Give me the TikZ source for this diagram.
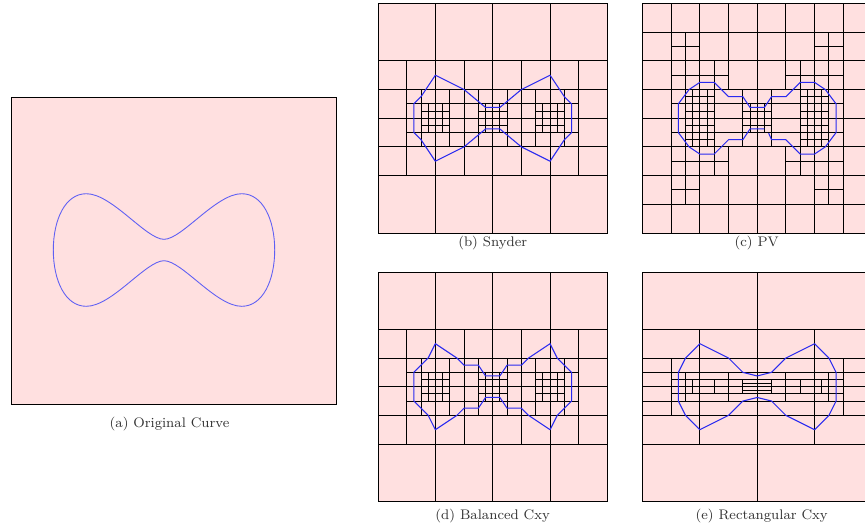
\documentclass[tikz,border=0pt]{standalone}
\usetikzlibrary{calc}
\definecolor{CellPink}{HTML}{FFE0E0}
\definecolor{CurveBlue}{HTML}{2A2AF0}
\definecolor{CaptionGray}{HTML}{333333}
\newcommand{\CellLines}[2]{%
  \foreach \yy/\aa/\bb in {#1} \draw[gridline] (\aa,\yy) -- (\bb,\yy);
  \foreach \xx/\aa/\bb in {#2} \draw[gridline] (\xx,\aa) -- (\xx,\bb);
}
\newcommand{\SnyderCells}{%
  \CellLines{8/0/32,12/0/32,16/0/32,20/0/32,24/0/32,14/4/28,18/4/28,
    15/6/10,17/6/10,15/14/18,17/14/18,15/22/26,17/22/26}
  {4/8/24,28/8/24,8/0/32,16/0/32,24/0/32,12/8/24,20/8/24,
    6/12/20,10/12/20,14/12/20,18/12/20,22/12/20,26/12/20,
    7/14/18,9/14/18,15/14/18,17/14/18,23/14/18,25/14/18}
}
\begin{document}
\begin{tikzpicture}[
    x=0.02cm,y=-0.02cm,
    panelsheet/.style={fill=CellPink,draw=black,line width=0.45pt},
    gridline/.style={draw=black,line width=0.5pt},
    polycurve/.style={draw=CurveBlue,line width=0.6pt,line join=round},
    smoothcurve/.style={draw=CurveBlue!75,line width=0.5pt},
    subpanel/.style={x=0.1434cm,y=-0.1434cm},
    caption/.style={text=CaptionGray,font=\fontsize{7.9}{10}\selectfont,inner sep=0pt}]

    \useasboundingbox (0,0) rectangle (865,529);
    \clip (0,0) rectangle (865,529);

    % Original curve
    \draw[panelsheet] (11,97) rectangle (336,404);
    \draw[smoothcurve] (164,239.3)
      .. controls (182,239.3) and (216,193.7) .. (241.7,193.7)
      .. controls (263,193.7) and (274.7,220) .. (274.7,250)
      .. controls (274.7,280) and (263,306.3) .. (241.7,306.3)
      .. controls (216,306.3) and (182,260.7) .. (164,260.7)
      .. controls (146,260.7) and (112,306.3) .. (86.3,306.3)
      .. controls (65,306.3) and (53.3,280) .. (53.3,250)
      .. controls (53.3,220) and (65,193.7) .. (86.3,193.7)
      .. controls (112,193.7) and (146,239.3) .. cycle;
    \node[caption] (capa) at (169.5,424.5) {(a) Original Curve};

    % Snyder
    \begin{scope}[shift={(378,3.5)},subpanel]
      \draw[panelsheet] (0,0) rectangle (32,32);
      \SnyderCells
      \draw[polycurve] (8,10) -- (12,12) -- (15,14.5) -- (17,14.5) -- (20,12) -- (24,10)
        -- (26,13) -- (27,14) -- (27,18) -- (26,19) -- (24,22) -- (20,20) -- (17,17.5)
        -- (15,17.5) -- (12,20) -- (8,22) -- (6,19) -- (5,18) -- (5,14) -- (6,13) -- cycle;
    \end{scope}
    \node[caption] (capb) at (492.7,243.5) {(b) Snyder};

    % PV
    \begin{scope}[shift={(642.5,3.5)},subpanel]
      \draw[panelsheet] (0,0) rectangle (32,32);
      \CellLines{4/0/32,8/0/32,12/0/32,16/0/32,20/0/32,24/0/32,28/0/32,
        6/4/8,6/24/28,26/4/8,26/24/28,10/4/12,10/20/28,22/4/12,22/20/28,14/4/28,18/4/28,
        13/6/10,13/22/26,19/6/10,19/22/26,15/6/10,15/14/18,15/22/26,17/6/10,17/14/18,17/22/26}
      {4/0/32,8/0/32,12/0/12,12/20/32,16/0/32,20/0/12,20/20/32,24/0/32,28/0/32,
        6/4/28,26/4/28,10/8/24,22/8/24,14/12/20,18/12/20,
        7/12/20,9/12/20,23/12/20,25/12/20,15/14/18,17/14/18}
      \draw[polycurve] (17.6,18.1) -- (18,19) -- (20,19) -- (22,21) -- (24,21) -- (25.5,20)
        -- (27,18) -- (27,14) -- (25.5,12) -- (24,11) -- (22,11) -- (20,13) -- (18,13)
        -- (17,14.5) -- (15,14.5) -- (14,13) -- (12,13) -- (10,11) -- (8,11) -- (6.5,12)
        -- (5,14) -- (5,18) -- (6.5,20) -- (8,21) -- (10,21) -- (12,19) -- (14,19)
        -- (15,17.5) -- (17,17.5);
    \end{scope}
    \node[caption] (capc) at (756.7,243.5) {(c) PV};

    % Balanced Cxy
    \begin{scope}[shift={(378,272)},subpanel]
      \draw[panelsheet] (0,0) rectangle (32,32);
      \SnyderCells
      \draw[polycurve] (8,10) -- (11,12) -- (12,13) -- (14,13) -- (15,14.5) -- (17,14.5)
        -- (18,13) -- (20,13) -- (21,12) -- (24,10) -- (25,12) -- (27,14) -- (27,18)
        -- (25,20) -- (24,22) -- (21,20) -- (20,19) -- (18,19) -- (17,17.5) -- (15,17.5)
        -- (14,19) -- (12,19) -- (11,20) -- (8,22) -- (7,20) -- (5,18) -- (5,14) -- (7,12) -- cycle;
    \end{scope}
    \node[caption] (capd) at (492.7,516) {(d) Balanced Cxy};

    % Rectangular Cxy
    \begin{scope}[shift={(642.5,272)},subpanel]
      \draw[panelsheet] (0,0) rectangle (32,32);
      \CellLines{8/0/32,12/0/32,14/0/32,16/0/32,18/0/32,20/0/32,24/0/32,15/4/28,17/4/28,
        15.5/14/18,16.5/14/18}
      {16/0/32,8/8/24,24/8/24,4/12/20,28/12/20,6/14/18,26/14/18,12/14/18,20/14/18,
        7/15/17,10/15/17,14/15/17,18/15/17,22/15/17,25/15/17}
      \draw[polycurve] (8,10) -- (12,12) -- (14,14) -- (16,14.5) -- (18,14) -- (20,12) -- (24,10)
        -- (26,12) -- (27,14) -- (27,18) -- (26,20) -- (24,22) -- (20,20) -- (18,18)
        -- (16,17.5) -- (14,18) -- (12,20) -- (8,22) -- (6,20) -- (5,18) -- (5,14) -- (6,12) -- cycle;
    \end{scope}
    \node[caption] (cape) at (761.7,516) {(e) Rectangular Cxy};
\end{tikzpicture}
\end{document}
